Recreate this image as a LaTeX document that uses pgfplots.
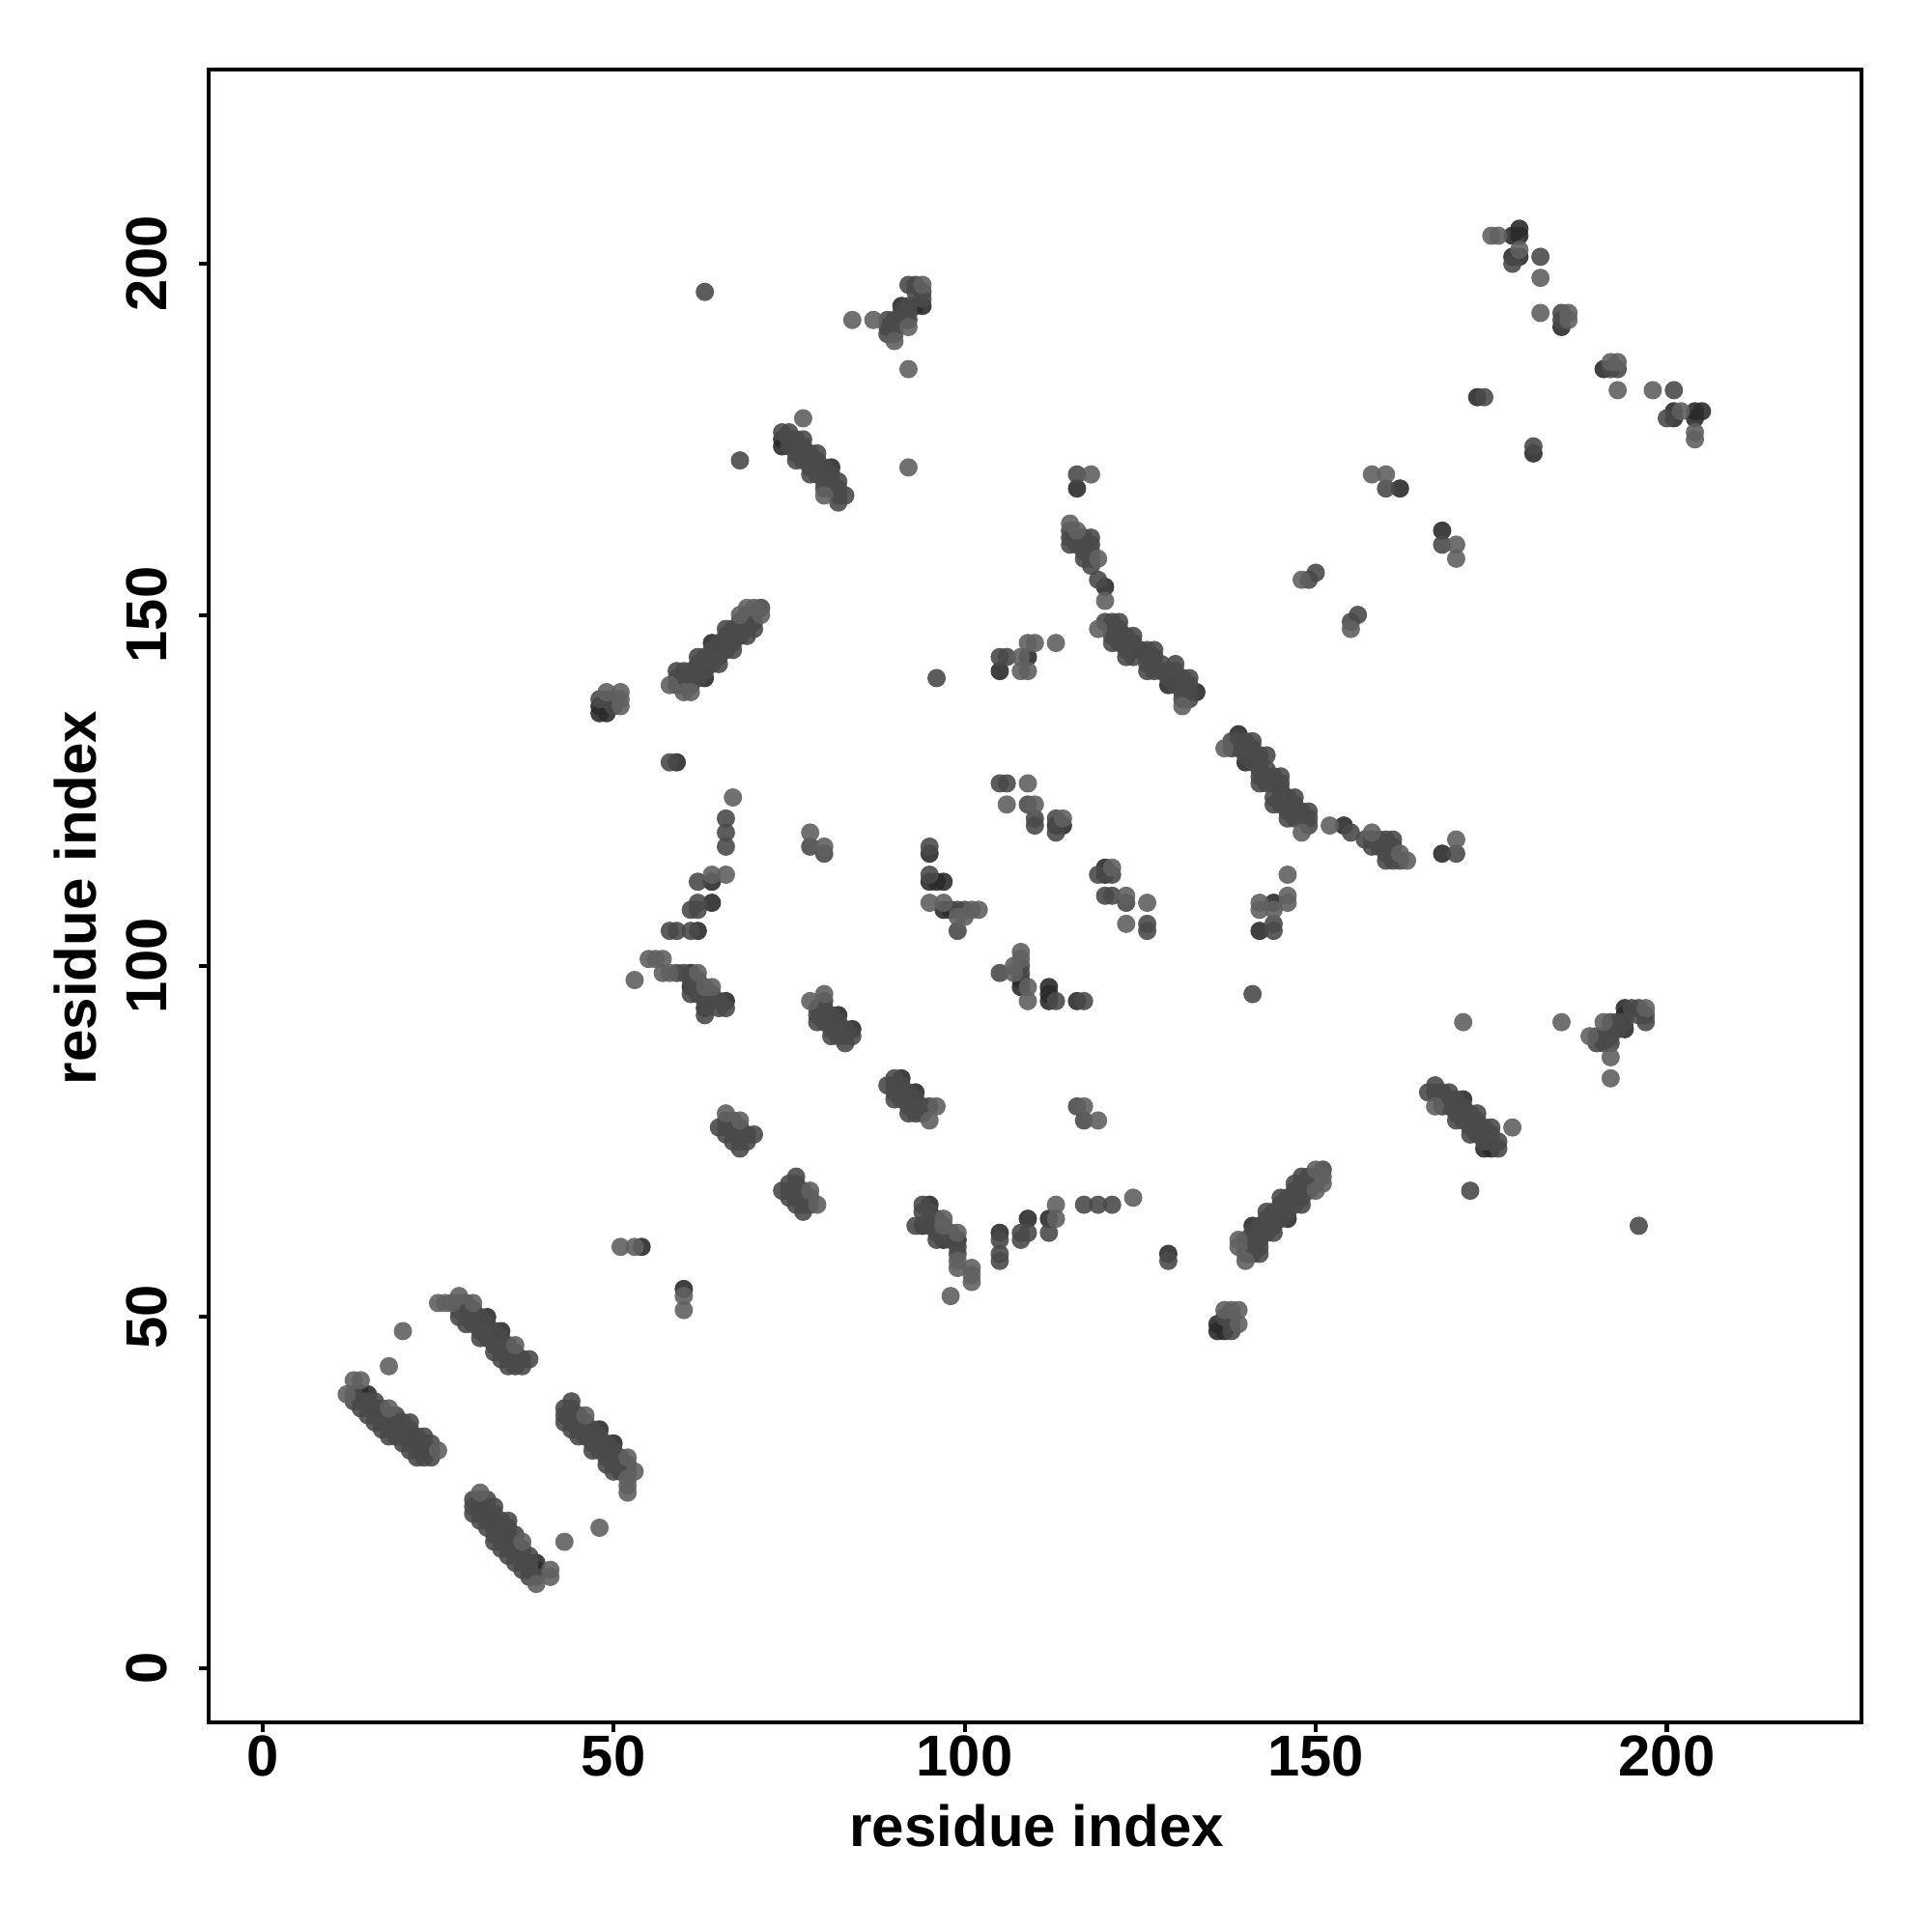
\documentclass[border=0pt]{standalone}
\usepackage{fontspec}
\setmainfont{Liberation Sans}
\usepackage{pgfplots}
\usepackage{pgfplotstable}
\pgfplotsset{compat=1.18}
\definecolor{cdark}{gray}{0.17}
\definecolor{cmid}{gray}{0.29}
\definecolor{clight}{gray}{0.38}
\pgfplotstableread[row sep=\\]{
i j\\
15 39\\14 39\\16 37\\19 35\\22 32\\21 33\\23 31\\24 31\\
32 50\\34 48\\
66 95\\61 99\\61 97\\63 94\\54 60\\62 105\\
82 93\\84 91\\
64 146\\63 141\\48 136\\49 136\\49 137\\48 137\\59 129\\64 112\\64 109\\
91 194\\93 194\\94 194\\74 174\\74 175\\81 171\\
113 120\\114 120\\97 112\\96 112\\95 112\\95 116\\98 108\\97 108\\
105 142\\109 144\\116 168\\120 154\\162 168\\125 145\\129 140\\133 139\\
173 181\\178 204\\179 204\\179 205\\178 201\\179 201\\185 191\\
}\darkpts
\pgfplotstableread[row sep=\\]{
i j\\
13 39\\13 38\\14 38\\15 38\\16 38\\14 37\\15 37\\15 36\\16 36\\16 35\\17 37\\17 36\\17 35\\17 34\\18 36\\18 35\\18 34\\18 33\\19 36\\19 34\\19 33\\20 35\\20 34\\20 33\\20 32\\21 35\\21 34\\21 32\\21 31\\22 33\\22 31\\22 30\\23 33\\23 32\\23 30\\24 32\\24 30\\
28 52\\28 51\\28 50\\29 52\\29 51\\29 50\\29 49\\30 51\\30 50\\30 49\\31 50\\31 49\\31 48\\31 47\\32 49\\32 48\\32 47\\33 48\\33 47\\33 46\\33 45\\34 47\\34 46\\34 45\\34 44\\35 46\\35 45\\35 44\\35 43\\36 45\\36 44\\36 43\\37 44\\37 43\\38 44\\
59 99\\60 99\\61 98\\61 96\\62 98\\62 97\\62 96\\63 96\\63 95\\63 93\\64 96\\65 95\\65 94\\66 94\\58 105\\59 105\\61 105\\
79 94\\79 93\\79 92\\80 95\\80 94\\80 93\\80 92\\81 93\\81 92\\81 91\\81 90\\82 92\\82 91\\82 90\\83 91\\83 90\\83 89\\84 90\\
65 77\\66 78\\66 77\\66 76\\67 78\\67 77\\67 76\\67 75\\68 77\\68 76\\68 75\\68 74\\69 76\\69 75\\70 76\\
59 142\\59 141\\59 140\\60 142\\60 141\\60 140\\61 142\\61 141\\61 140\\62 144\\62 143\\62 142\\62 141\\63 144\\63 143\\63 142\\64 145\\64 144\\64 143\\65 146\\65 145\\65 144\\65 143\\66 148\\66 147\\66 146\\66 145\\67 148\\67 147\\67 146\\67 145\\68 149\\68 148\\68 147\\69 150\\69 149\\69 148\\69 147\\70 150\\70 149\\70 148\\71 151\\
48 138\\49 138\\50 138\\50 137\\58 129\\
66 121\\66 119\\66 117\\78 117\\80 116\\62 112\\61 108\\62 109\\62 108\\
63 196\\68 172\\89 192\\89 191\\89 190\\90 192\\90 191\\90 190\\91 192\\92 192\\91 193\\92 193\\92 194\\92 197\\93 197\\94 196\\94 195\\93 196\\
74 176\\75 176\\75 175\\75 174\\76 175\\76 174\\76 173\\76 172\\77 175\\77 174\\77 173\\77 172\\78 173\\78 172\\78 171\\78 170\\79 173\\79 172\\79 171\\79 170\\80 171\\80 170\\80 169\\80 168\\81 170\\81 169\\81 168\\82 169\\82 168\\82 167\\82 166\\83 167\\
105 126\\106 126\\109 123\\110 121\\110 120\\113 121\\113 119\\
95 113\\95 117\\99 108\\99 105\\100 108\\
96 141\\105 144\\106 144\\
115 162\\115 161\\115 160\\116 161\\116 160\\117 161\\117 160\\117 159\\117 158\\118 161\\118 160\\118 159\\118 158\\116 170\\118 157\\119 155\\
160 168\\149 155\\150 156\\
120 149\\121 149\\121 148\\121 147\\121 146\\122 149\\122 148\\122 147\\122 146\\123 147\\123 146\\123 145\\123 144\\124 147\\124 146\\124 145\\124 144\\126 145\\126 144\\126 143\\126 142\\127 145\\127 144\\127 143\\127 142\\128 143\\128 142\\129 142\\129 141\\130 143\\130 142\\130 141\\130 140\\131 141\\131 140\\131 139\\131 138\\132 141\\132 140\\132 139\\132 138\\
174 181\\178 200\\182 201\\185 193\\185 192\\
}\midpts
\pgfplotstableread[row sep=\\]{
i j\\
12 39\\13 41\\14 41\\18 43\\20 48\\25 31\\18 37\\
25 52\\26 52\\27 52\\28 53\\30 52\\36 46\\
53 98\\55 101\\56 101\\57 101\\57 99\\58 99\\62 99\\64 97\\63 97\\51 60\\53 60\\
80 96\\78 95\\66 79\\68 78\\
58 140\\60 139\\61 139\\68 150\\69 151\\70 151\\71 150\\
49 139\\51 139\\51 138\\51 137\\
67 124\\78 119\\80 117\\64 113\\66 113\\
77 178\\92 171\\92 185\\84 192\\87 192\\90 189\\92 191\\94 197\\80 167\\
109 126\\106 123\\110 123\\114 121\\
95 109\\97 109\\101 108\\102 108\\100 107\\99 107\\
108 142\\109 142\\108 144\\109 146\\110 146\\113 146\\
115 163\\116 162\\119 158\\120 152\\118 170\\158 170\\160 170\\148 155\\
119 148\\131 137\\
175 204\\176 204\\182 193\\182 198\\186 193\\186 192\\179 202\\
}\lightpts
\begin{document}
\begin{tikzpicture}
\path[use as bounding box] (-2.156,-2.17) rectangle (17.844,17.83);
\begin{axis}[
  at={(0,0)},anchor=south west,
  scale only axis,width=17.114cm,height=17.114cm,
  xmin=-7.72,xmax=227.72,ymin=-7.72,ymax=227.72,
  xtick={0,50,100,150,200},ytick={0,50,100,150,200},
  tick pos=left,tick align=outside,
  major tick length=0.10cm,
  axis line style={line width=1.15pt,black},
  tick style={line width=1.15pt,black},
  /pgf/number format/assume math mode=true,
  ticklabel style={font=\fontsize{17}{20}\selectfont\bfseries},
  xticklabel style={anchor=center,yshift=-0.25cm},
  yticklabel style={xshift=-0.54cm,rotate=90,anchor=center},
  xlabel={residue index},ylabel={residue index},
  every axis x label/.style={font=\fontsize{17.1}{20}\selectfont\bfseries,at={(axis description cs:0.5,0)},yshift=-1.075cm,xshift=0.02cm,anchor=center},
  every axis y label/.style={font=\fontsize{17.1}{20}\selectfont\bfseries,at={(axis description cs:0,0.5)},xshift=-1.38cm,yshift=-0.02cm,rotate=90,anchor=center},
  every axis plot/.append style={only marks,mark=*,mark size=2.7pt},
]
\addplot[mark options={draw opacity=0,line width=0pt,fill=cdark,fill opacity=0.9}] table[x=i,y=j]{\darkpts};
\addplot[mark options={draw opacity=0,line width=0pt,fill=cdark,fill opacity=0.9}] table[x=j,y=i]{\darkpts};
\addplot[mark options={draw opacity=0,line width=0pt,fill=cmid,fill opacity=0.9}] table[x=i,y=j]{\midpts};
\addplot[mark options={draw opacity=0,line width=0pt,fill=cmid,fill opacity=0.9}] table[x=j,y=i]{\midpts};
\addplot[mark options={draw opacity=0,line width=0pt,fill=clight,fill opacity=0.9}] table[x=i,y=j]{\lightpts};
\addplot[mark options={draw opacity=0,line width=0pt,fill=clight,fill opacity=0.9}] table[x=j,y=i]{\lightpts};
\end{axis}
\end{tikzpicture}
\end{document}
